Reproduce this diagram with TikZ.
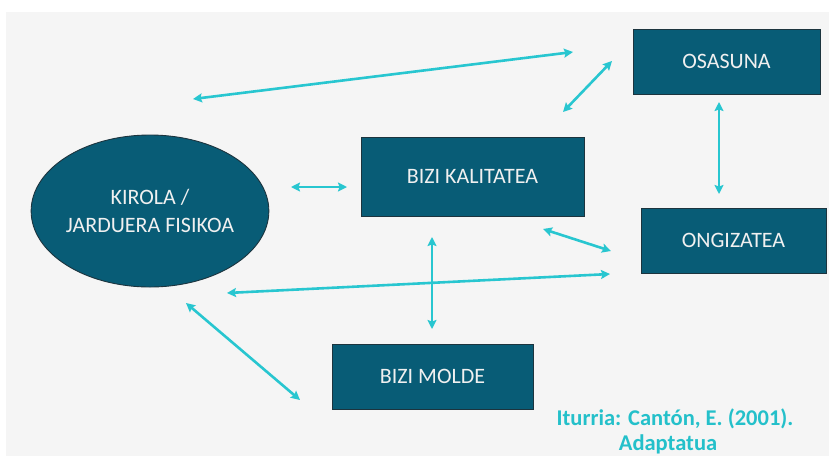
\documentclass[tikz,border=0pt]{standalone}
\usepackage{fontspec}
\setmainfont{Carlito}
\usetikzlibrary{arrows.meta,shapes.geometric}

\definecolor{boxfill}{RGB}{8,92,118}
\definecolor{boxline}{RGB}{28,52,62}
\definecolor{linkcol}{RGB}{40,198,208}
\definecolor{citecol}{RGB}{36,192,202}
\definecolor{paper}{RGB}{245,245,245}

\tikzset{
  concept/.style={draw=boxline, line width=0.9pt, fill=boxfill, text=white!94!black,
    font=\fontsize{22}{27.5}\selectfont, align=center, inner sep=0pt},
  stepbox/.style={concept, rectangle},
  link/.style={draw=linkcol, line width=2.6pt,
    {Stealth[length=9pt,width=9pt,inset=1.5pt]}-{Stealth[length=9pt,width=9pt,inset=1.5pt]}},
  cite/.style={text=citecol, font=\bfseries\fontsize{22.5}{28}\selectfont, anchor=base, inner sep=0pt}
}

\begin{document}
\begin{tikzpicture}[x=1pt, y=-1pt]
  % page and textured backdrop
  \useasboundingbox (0,0) rectangle (829,456);
  \fill[white] (0,0) rectangle (829,456);
  \fill[paper] (6,12) rectangle (829,456);

  % concepts
  \node[concept, ellipse, minimum width=236pt, minimum height=152pt] (kirola) at (150,211)
    {KIROLA /\\JARDUERA FISIKOA};
  \node[stepbox, minimum width=223pt, minimum height=79pt] (kalitatea) at (472.5,176.5) {BIZI KALITATEA};
  \node[stepbox, minimum width=187pt, minimum height=65pt] (osasuna) at (726.5,61.5) {OSASUNA};
  \node[stepbox, minimum width=185pt, minimum height=65pt] (ongizatea) at (733.5,240.5) {ONGIZATEA};
  \node[stepbox, minimum width=201pt, minimum height=65pt] (molde) at (432.5,376.5) {BIZI MOLDE};

  % free ends of the relation arrows
  \coordinate (kirOsaA) at (193,99);
  \coordinate (kirOsaB) at (573,52);
  \coordinate (kalOsaA) at (563,112);
  \coordinate (kalOsaB) at (612,61);
  \coordinate (osaOngA) at (719,102);
  \coordinate (osaOngB) at (719,194);
  \coordinate (kirKalA) at (291,187);
  \coordinate (kirKalB) at (347,187);
  \coordinate (kalOngA) at (543,229);
  \coordinate (kalOngB) at (611,251);
  \coordinate (kirOngA) at (227,293);
  \coordinate (kirOngB) at (610,274);
  \coordinate (kalMolA) at (432,237);
  \coordinate (kalMolB) at (432,329);
  \coordinate (kirMolA) at (186,303);
  \coordinate (kirMolB) at (300,400);

  % relations
  \draw[link] (kirOsaA) -- (kirOsaB);
  \draw[link] (kalOsaA) -- (kalOsaB);
  \draw[link] (osaOngA) -- (osaOngB);
  \draw[link] (kirKalA) -- (kirKalB);
  \draw[link] (kalOngA) -- (kalOngB);
  \draw[link] (kirOngA) -- (kirOngB);
  \draw[link] (kalMolA) -- (kalMolB);
  \draw[link] (kirMolA) -- (kirMolB);

  % source note
  \node[cite] (source) at (675,425) {Iturria: Cantón, E. (2001).};
  \node[cite] (adapted) at (668,450) {Adaptatua};
\end{tikzpicture}
\end{document}
